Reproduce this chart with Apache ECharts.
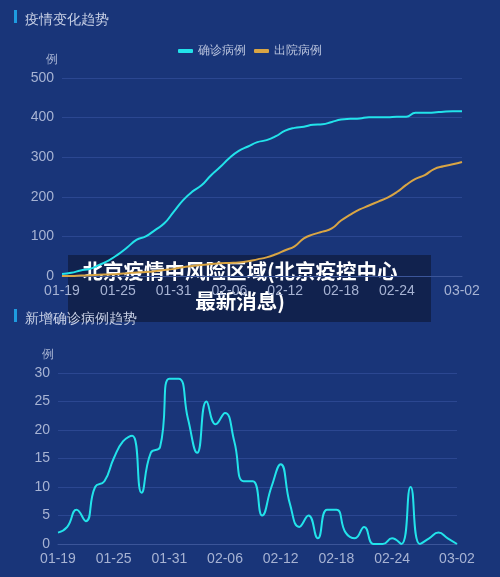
<!DOCTYPE html><html><head><meta charset="utf-8"><script src="https://cdn.jsdelivr.net/npm/echarts@6/dist/echarts.min.js"></script>
<style>html,body{margin:0;padding:0;background:#193579}#c{width:500px;height:577px}</style></head><body><div id="c"></div><script>
const dates=["01-19","01-20","01-21","01-22","01-23","01-24","01-25","01-26","01-27","01-28","01-29","01-30","01-31","02-01","02-02","02-03","02-04","02-05","02-06","02-07","02-08","02-09","02-10","02-11","02-12","02-13","02-14","02-15","02-16","02-17","02-18","02-19","02-20","02-21","02-22","02-23","02-24","02-25","02-26","02-27","02-28","02-29","03-01","03-02"];
const confirmed=[5,8,14,18,28,39,54,72,91,100,116,133,162,191,213,229,254,275,298,316,327,338,343,353,367,374,377,382,383,389,395,397,398,401,401,401,402,402,412,412,413,415,416,416];
const discharged=[0,0,1,2,3,4,5,7,9,10,12,15,18,22,25,28,30,32,33,34,37,42,47,55,65,75,95,105,112,120,140,155,168,178,188,198,212,230,245,255,270,277,282,288];
const daily=[2,3,6,4,10,11,15,18,19,9,16,17,29,29,22,16,25,21,23,18,11,11,5,10,14,7,3,5,1,6,6,2,1,3,0,0,1,0,10,0,1,2,1,0];
const lab={color:'#a7b3d3',fontSize:14};
const showLab=(i)=>(i%6===0&&i<42)||i===43;
const xa=(g)=>({type:'category',gridIndex:g,data:dates,boundaryGap:false,axisLine:{lineStyle:{color:'#3b5599'}},axisTick:{show:false},axisLabel:Object.assign({interval:showLab,margin:8},lab)});
const ya=(g,max,itv)=>({type:'value',gridIndex:g,min:0,max:max,interval:itv,name:'例',nameTextStyle:{color:'#a7b3d3',fontSize:12,align:'right',padding:[0,4,0,0]},nameGap:12,axisLine:{show:false},axisTick:{show:false},axisLabel:lab,splitLine:{lineStyle:{color:'#2b4791'}}});
const c=echarts.init(document.getElementById('c'));
c.setOption({backgroundColor:'#193579',animation:false,
title:[{text:'疫情变化趋势',left:20,top:8,textStyle:{color:'#c9d1e6',fontSize:14,fontWeight:'normal'}},{text:'新增确诊病例趋势',left:20,top:307,textStyle:{color:'#c9d1e6',fontSize:14,fontWeight:'normal'}}],
legend:{top:40,left:'center',itemWidth:15,itemHeight:4,icon:'roundRect',textStyle:{color:'#b9c3dd',fontSize:12},data:['确诊病例','出院病例']},
grid:[{left:62,right:38,top:78,height:198},{left:58,right:43,top:373,height:171}],
xAxis:[xa(0),xa(1)],yAxis:[ya(0,500,100),ya(1,30,5)],
series:[{name:'确诊病例',type:'line',xAxisIndex:0,yAxisIndex:0,data:confirmed,smooth:true,showSymbol:false,lineStyle:{width:2,color:'#22e3ea'},itemStyle:{color:'#22e3ea'}},
{name:'出院病例',type:'line',xAxisIndex:0,yAxisIndex:0,data:discharged,smooth:true,showSymbol:false,lineStyle:{width:2,color:'#d9a544'},itemStyle:{color:'#d9a544'}},
{name:'新增',type:'line',xAxisIndex:1,yAxisIndex:1,data:daily,smooth:true,showSymbol:false,lineStyle:{width:2,color:'#22e3ea'}}],
graphic:[{type:'rect',left:14,top:10,shape:{width:3,height:13},style:{fill:'#1e9be0'}},{type:'rect',left:14,top:309,shape:{width:3,height:13},style:{fill:'#1e9be0'}},
{type:'rect',left:68,top:255,shape:{width:363,height:67},style:{fill:'rgba(16,30,70,0.85)'}},
{type:'text',x:240,y:256,style:{text:'北京疫情中风险区域(北京疫控中心\n最新消息)',align:'center',fill:'#ffffff',font:'bold 20.5px "Noto Sans CJK SC"',lineHeight:30}}]});
</script></body></html>
